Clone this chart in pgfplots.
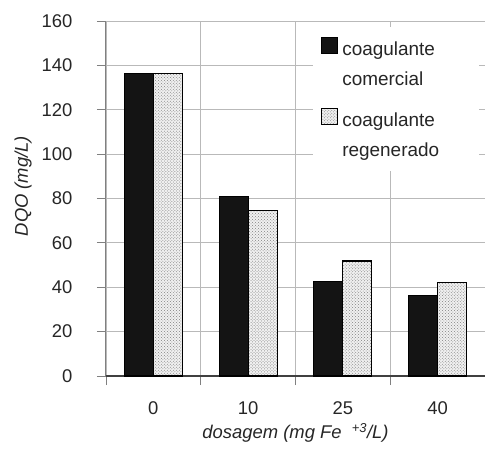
\documentclass[border=0pt]{standalone}
\usepackage{pgfplots}
\pgfplotsset{compat=1.18}
\usepackage{fontspec}
\setmainfont{Liberation Sans}
\usetikzlibrary{patterns}
\begin{document}
\begin{tikzpicture}
\useasboundingbox (-106bp,-78bp) rectangle (379bp,376bp);
\begin{axis}[
  at={(0,0)}, anchor=south west,
  scale only axis, width=379bp, height=355bp,
  ymin=0, ymax=160, ytick={0,20,...,160},
  xmin=-0.5, xmax=3.5,
  xtick={0,1,2,3}, xticklabels={0,10,25,40},
  minor xtick={-0.5,0.5,1.5,2.5},
  axis x line*=bottom, axis y line*=left,
  x axis line style={black!75, line width=1.2bp},
  y axis line style={gray, line width=1bp},
  tick align=outside, major tick length=9bp, minor tick length=9bp,
  major x tick style={draw=none},
  minor x tick style={gray, line width=0.8bp},
  ytick style={gray, line width=0.8bp},
  ymajorgrids, xminorgrids,
  major grid style={gray!55, line width=0.8bp},
  minor grid style={gray!55, line width=0.8bp},
  /pgf/number format/assume math mode=true,
  tick label style={font=\fontsize{18.5}{22}\selectfont, text=black!85},
  every y tick label/.append style={xshift=-21bp},
  xticklabel style={yshift=-13bp},
  ylabel={\itshape DQO (mg/L)},
  xlabel={\itshape dosagem (mg Fe\hspace{0.55em}\textsuperscript{+3}/L)},
  label style={font=\fontsize{18.5}{22}\selectfont, text=black!85},
  every axis y label/.append style={at={(axis description cs:-0.219,0.535)}, anchor=center},
  every axis x label/.append style={at={(axis description cs:0.5,-0.16)}, anchor=center},
  ybar=0pt, bar width=29bp,
  legend image code/.code={\draw[#1, line width=1.2bp] (0bp,-4bp) rectangle (16bp,12bp); \path (0bp,-40bp);},
  legend cell align=left,
  legend style={at={(axis description cs:0.546,0.985)}, anchor=north west,
    draw=none, fill=white, inner xsep=8bp, inner ysep=10bp,
    font=\fontsize{19}{30}\selectfont, text=black!85, row sep=18bp,
    nodes={inner xsep=4bp}},
]
\addplot[ybar, fill=black!92, draw=black, line width=1.2bp]
  coordinates {(0,136.5) (1,80.8) (2,42.5) (3,36.4)};
\addlegendentry{\parbox[t]{125bp}{coagulante\\comercial}}
\addplot[ybar, fill=gray!12, postaction={pattern=crosshatch dots, pattern color=gray}, draw=black, line width=1.2bp]
  coordinates {(0,136.5) (1,74.5) (2,51.8) (3,42.1)};
\addlegendentry{\parbox[t]{125bp}{coagulante\\regenerado}}
\end{axis}
\end{tikzpicture}
\end{document}
